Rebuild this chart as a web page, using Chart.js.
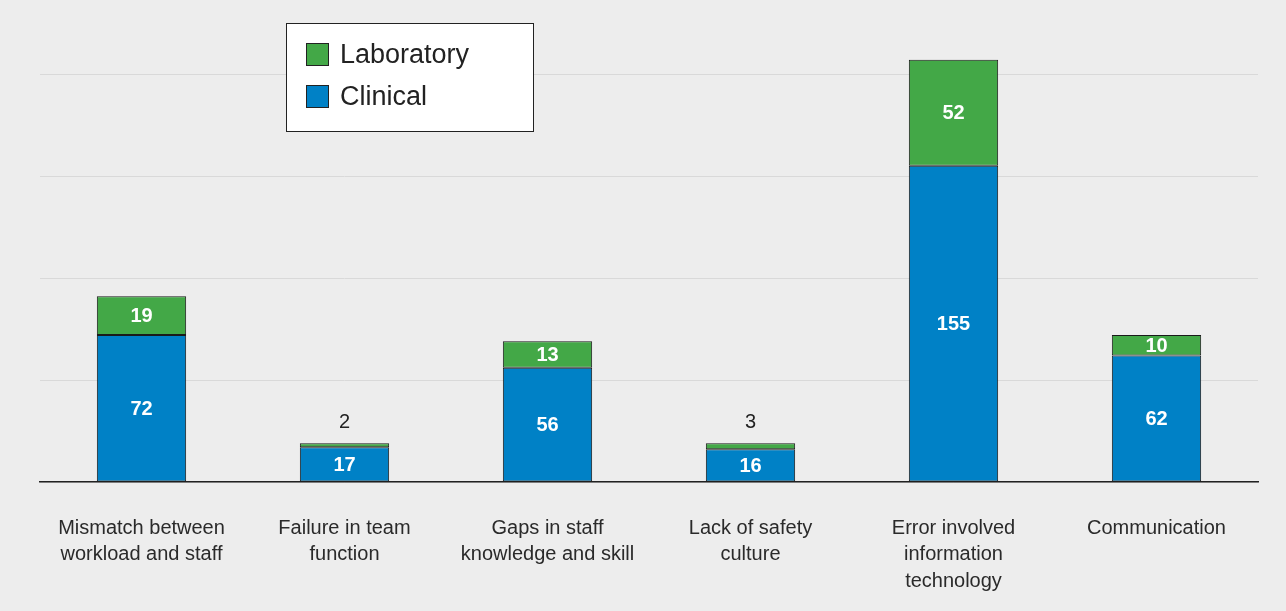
<!DOCTYPE html>
<html>
<head>
<meta charset="utf-8">
<script src="https://cdn.jsdelivr.net/npm/chart.js@4/dist/chart.umd.min.js"></script>
<style>
  html, body { margin: 0; padding: 0; background: #ededed; }
  #wrap { width: 1286px; height: 611px; position: relative; }
</style>
</head>
<body>
<div id="wrap"><canvas id="chart"></canvas></div>
<script>
// categories and series
const categories = [
  ['Mismatch between', 'workload and staff'],
  ['Failure in team', 'function'],
  ['Gaps in staff', 'knowledge and skill'],
  ['Lack of safety', 'culture'],
  ['Error involved', 'information', 'technology'],
  ['Communication']
];
const clinical = [72, 17, 56, 16, 155, 62];
const laboratory = [19, 2, 13, 3, 52, 10];
const yTicks = [0, 50, 100, 150, 200];

const BLUE = '#0081c6';
const GREEN = '#43a847';
const FONT = "'Liberation Sans', Arial, sans-serif";

// value labels: white inside the segment, black above when the segment is too thin
const valueLabels = {
  id: 'valueLabels',
  afterDatasetsDraw(chart) {
    const ctx = chart.ctx;
    ctx.save();
    ctx.textAlign = 'center';
    ctx.textBaseline = 'middle';
    chart.data.datasets.forEach((ds, di) => {
      const meta = chart.getDatasetMeta(di);
      meta.data.forEach((bar, i) => {
        const h = Math.abs(bar.base - bar.y);
        if (h >= 15) {
          ctx.fillStyle = '#fff';
          ctx.font = 'bold 20px ' + FONT;
          ctx.fillText(ds.data[i], bar.x, (bar.y + bar.base) / 2 + 1);
        } else {
          ctx.fillStyle = '#222';
          ctx.font = '20px ' + FONT;
          ctx.fillText(ds.data[i], bar.x, bar.y - 21);
        }
      });
    });
    ctx.restore();
  }
};

// boxed legend in the upper left of the plot
const boxLegend = {
  id: 'boxLegend',
  afterDraw(chart) {
    const ctx = chart.ctx;
    const x = 286.5, y = 23.5, w = 247, h = 108;
    ctx.save();
    ctx.fillStyle = '#fff';
    ctx.fillRect(x, y, w, h);
    ctx.strokeStyle = '#222';
    ctx.lineWidth = 1;
    ctx.strokeRect(x, y, w, h);
    const items = [
      { label: 'Laboratory', color: GREEN },
      { label: 'Clinical', color: BLUE }
    ];
    items.forEach((it, k) => {
      const cy = 55 + k * 42;
      ctx.fillStyle = it.color;
      ctx.fillRect(306.5, cy - 11.5, 22, 22);
      ctx.strokeRect(306.5, cy - 11.5, 22, 22);
      ctx.fillStyle = '#222';
      ctx.font = '27px ' + FONT;
      ctx.textBaseline = 'middle';
      ctx.fillText(it.label, 340, cy + 1);
    });
    ctx.restore();
  }
};

new Chart(document.getElementById('chart'), {
  type: 'bar',
  data: {
    labels: categories,
    datasets: [
      { label: 'Clinical', data: clinical, backgroundColor: BLUE,
        borderColor: '#1a1a1a', borderWidth: 1, borderSkipped: false, clip: false },
      { label: 'Laboratory', data: laboratory, backgroundColor: GREEN,
        borderColor: '#1a1a1a', borderWidth: 1, borderSkipped: false, clip: false }
    ]
  },
  options: {
    responsive: true,
    maintainAspectRatio: false,
    animation: false,
    layout: { padding: { left: 40, right: 28, top: 74, bottom: 0 } },
    datasets: { bar: { barPercentage: 0.44, categoryPercentage: 1 } },
    plugins: {
      legend: { display: false },
      tooltip: { enabled: false }
    },
    scales: {
      x: {
        stacked: true,
        grid: { display: false },
        border: { color: '#222', width: 1.5 },
        afterFit(scale) { scale.height = 129; },
        ticks: {
          color: '#2a2a2a',
          font: { family: FONT, size: 20, lineHeight: 1.33 },
          padding: 25,
          maxRotation: 0,
          autoSkip: false
        }
      },
      y: {
        stacked: true,
        min: 0,
        max: 200,
        afterBuildTicks(axis) { axis.ticks = yTicks.map(v => ({ value: v })); },
        grid: { color: '#d9d9d9', lineWidth: 1, drawTicks: false },
        border: { display: false },
        ticks: { display: false }
      }
    }
  },
  plugins: [valueLabels, boxLegend]
});
</script>
</body>
</html>
